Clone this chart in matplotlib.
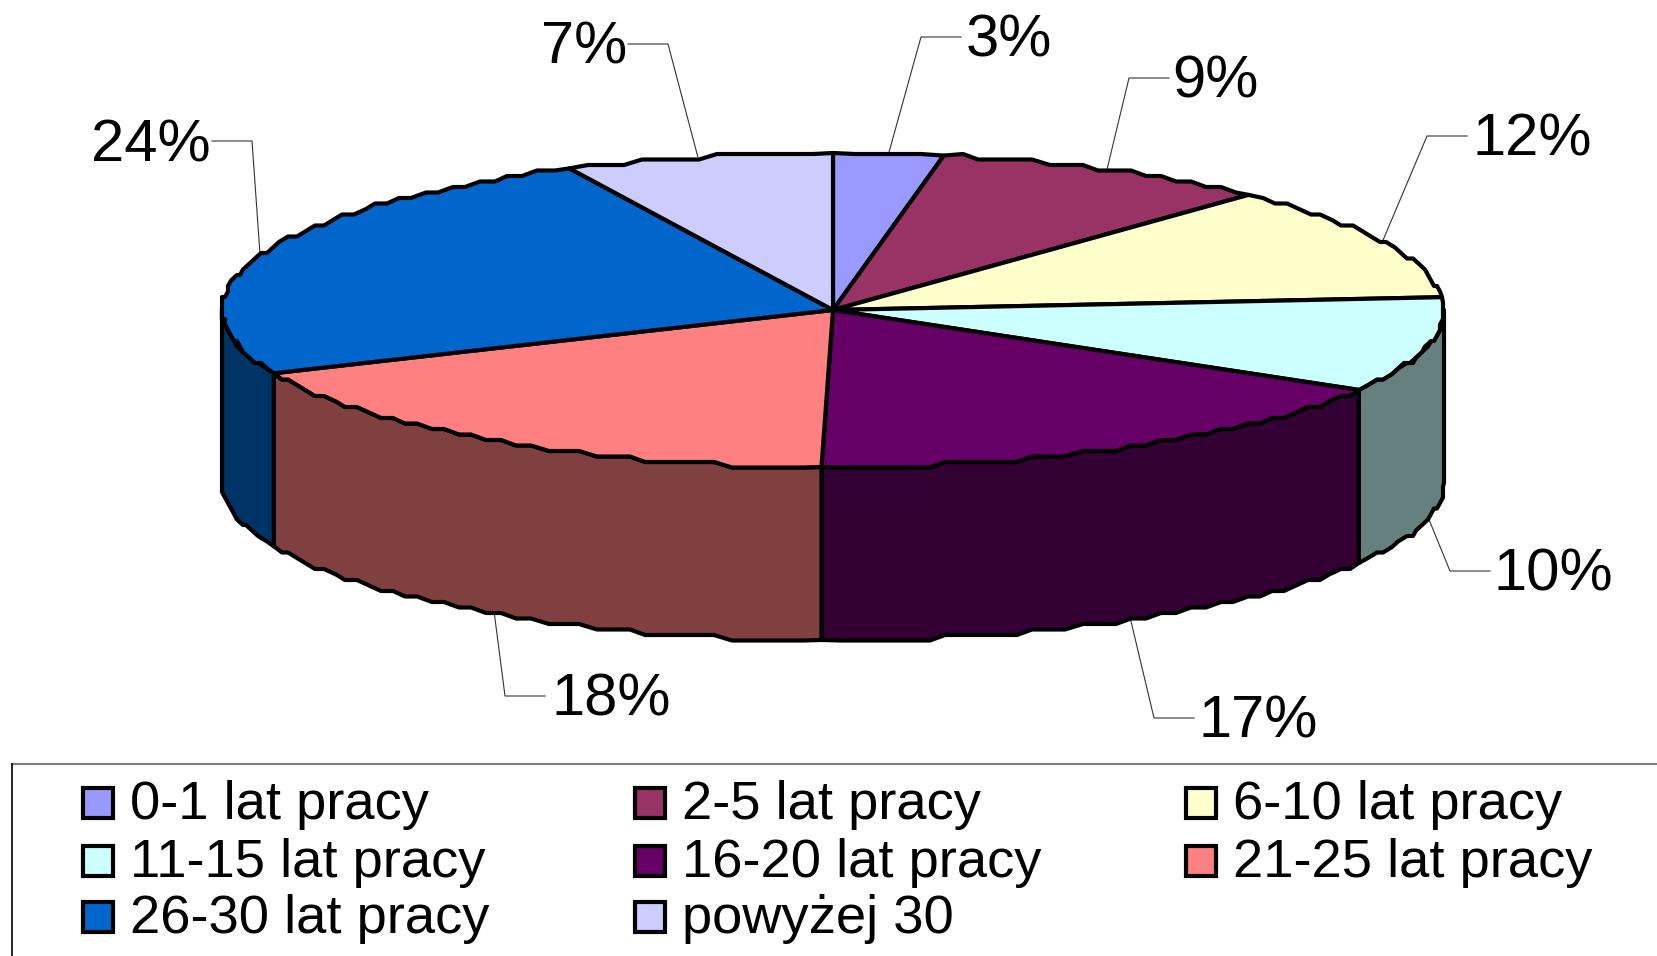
# plot.py
# Flat 3D-looking pie of years of work, drawn by hand since matplotlib has no such pie.

import numpy as np
import matplotlib
matplotlib.use("Agg")
import matplotlib.pyplot as plt
from matplotlib.patches import Polygon, Rectangle

categories = ["0-1 lat pracy", "2-5 lat pracy", "6-10 lat pracy",
              "11-15 lat pracy", "16-20 lat pracy", "21-25 lat pracy",
              "26-30 lat pracy", "powyżej 30"]
shares = [2.9, 9.0, 11.8, 9.8, 16.8, 18.1, 24.5, 7.1]  # read from the slice edges
labels = ["3%", "9%", "12%", "10%", "17%", "18%", "24%", "7%"]
top_colors = ["#9999FF", "#993366", "#FFFFCC", "#CCFFFF",
              "#660066", "#FF8080", "#0066CC", "#CCCCFF"]
side_colors = ["#4D4D80", "#4D1A33", "#808066", "#668080",
               "#330033", "#804040", "#003366", "#666680"]

# layout, in image pixels
CX, CY, RX, RY, DEPTH = 833, 310, 611, 157, 173
label_xy = [(1009, 41), (1215, 82), (1532, 140), (1553, 575),
            (1258, 722), (611, 700), (151, 146), (584, 48)]
elbow_xy = [(921, 37), (1129, 78), (1427, 136), (1450, 571),
            (1154, 718), (505, 696), (252, 141), (668, 44)]
text_side = [1, 1, 1, 1, 1, 1, -1, -1]
legend_x = [81, 633, 1184]
legend_base = [819, 877, 933]

plt.rcParams["font.family"] = ["Liberation Sans", "DejaVu Sans"]
fig = plt.figure(figsize=(16.57, 9.56), dpi=100)
ax = fig.add_axes([0, 0, 1, 1])
ax.set_xlim(0, 1657); ax.set_ylim(956, 0); ax.axis("off")

def rim(a0, a1, drop=0.0):
    # stepped ellipse arc, the source picture has a coarse outline
    n = max(2, int(abs(a1 - a0) / np.radians(1.6)))
    t = np.linspace(a0, a1, n)
    x = CX + RX * np.sin(t)
    y = CY - RY * np.cos(t)
    x = np.round(x / 3) * 3
    y = np.round(y / 5.5) * 5.5 + drop
    x[0], y[0] = CX + RX * np.sin(a0), CY - RY * np.cos(a0) + drop
    x[-1], y[-1] = CX + RX * np.sin(a1), CY - RY * np.cos(a1) + drop
    return np.column_stack([x, y])

edges = np.radians(np.cumsum([0] + shares) * 3.6)
EDGE = dict(edgecolor="black", linewidth=3.0, joinstyle="round")

# side walls, only the front half of the disc shows them
for i in range(len(shares)):
    a0, a1 = max(edges[i], np.pi / 2), min(edges[i + 1], 3 * np.pi / 2)
    if a1 <= a0:
        continue
    upper = rim(a0, a1)
    lower = rim(a0, a1, DEPTH)
    ax.add_patch(Polygon(np.vstack([upper, lower[::-1]]), closed=True,
                         facecolor=side_colors[i], zorder=2, **EDGE))

# top face
for i in range(len(shares)):
    pts = np.vstack([[CX, CY], rim(edges[i], edges[i + 1])])
    ax.add_patch(Polygon(pts, closed=True, facecolor=top_colors[i], zorder=3, **EDGE))

# percent labels with leader lines
for i, lab in enumerate(labels):
    mid = (edges[i] + edges[i + 1]) / 2
    sx = CX + RX * np.sin(mid)
    sy = CY - RY * np.cos(mid)
    if np.cos(mid) < 0:
        sy += DEPTH
    ex, ey = elbow_xy[i]
    ax.plot([sx, ex, ex + 40 * text_side[i]], [sy, ey, ey], color="#333333",
            lw=0.8, zorder=1, solid_joinstyle="miter")
    ax.text(label_xy[i][0], label_xy[i][1], lab, fontsize=43, ha="center",
            va="center", color="black", zorder=5)

# legend, laid out by hand to keep the open right and bottom sides
ax.plot([12, 1657], [764, 764], color="#808080", lw=1.5, zorder=1)
ax.plot([12, 12], [764, 956], color="black", lw=1.2, zorder=1)
for i, name in enumerate(categories):
    row, col = i // 3, i % 3
    base = legend_base[row]
    ax.add_patch(Rectangle((legend_x[col] + 2, base - 31), 30, 30,
                           facecolor=top_colors[i], edgecolor="black",
                           linewidth=3.0, zorder=3))
    ax.text(legend_x[col] + 49, base, name, fontsize=39.2, ha="left",
            va="baseline", color="black", zorder=5)

fig.savefig("out.png", dpi=100)
